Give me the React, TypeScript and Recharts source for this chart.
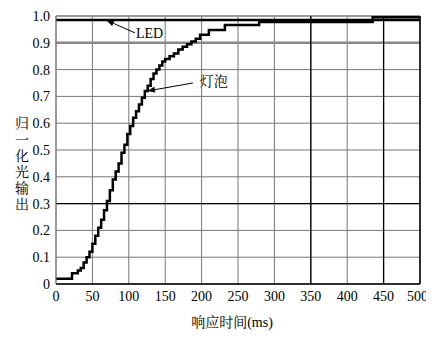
import React from 'react';
import { ComposedChart, Line, XAxis, YAxis, CartesianGrid, ReferenceLine } from 'recharts';

const bulbTimes = [0, 22, 30, 34, 38, 42, 46, 50, 54, 58, 62, 66, 70, 74, 78, 82, 86, 90, 94, 98, 102, 106, 110, 114, 118, 122, 126, 130, 134, 138, 142, 146, 150, 156, 162, 168, 174, 180, 186, 192, 198, 210, 232, 279, 435, 500];
const bulbOutput = [0.02, 0.04, 0.05, 0.06, 0.08, 0.1, 0.12, 0.15, 0.18, 0.21, 0.24, 0.275, 0.31, 0.35, 0.39, 0.42, 0.45, 0.49, 0.52, 0.56, 0.59, 0.62, 0.645, 0.67, 0.695, 0.72, 0.74, 0.765, 0.785, 0.8, 0.815, 0.83, 0.84, 0.85, 0.86, 0.875, 0.885, 0.895, 0.905, 0.915, 0.93, 0.948, 0.966, 0.978, 0.995, 0.995];
const ledTimes = [0, 500];
const ledOutput = [0.985, 0.985];
const xTicks = [0, 50, 100, 150, 200, 250, 300, 350, 400, 450, 500];
const yTicks = [0, 0.1, 0.2, 0.3, 0.4, 0.5, 0.6, 0.7, 0.8, 0.9, 1.0];
const yLabel = '归一化光输出';
const xLabelCjk = '响应时间';
const xLabelUnit = '(ms)';

const bulbData = bulbTimes.map((t, i) => ({ t, v: bulbOutput[i] }));
const ledData = ledTimes.map((t, i) => ({ t, v: ledOutput[i] }));

const LATIN = 'Liberation Serif';
const CJK = 'Noto Serif CJK SC';

const makeArrow = (text: string, dx: number, dy: number, font: string) => (props: any) => {
  const { x1, y1, x2, y2 } = props;
  const ang = Math.atan2(y2 - y1, x2 - x1);
  const L = 8, W = 3;
  const bx = x2 - L * Math.cos(ang), by = y2 - L * Math.sin(ang);
  const px = -Math.sin(ang) * W, py = Math.cos(ang) * W;
  return (
    <g>
      <line x1={x1} y1={y1} x2={bx} y2={by} stroke="#000" strokeWidth={1} />
      <polygon points={`${x2},${y2} ${bx + px},${by + py} ${bx - px},${by - py}`} fill="#000" />
      <text x={x1 + dx} y={y1 + dy + 5} fontFamily={font} fontSize={14} fill="#000">{text}</text>
    </g>
  );
};

const YLabel = () => {
  return (
    <text x={14} y={108} fontFamily={CJK} fontSize={14} fill="#000" letterSpacing={2.2} style={{ writingMode: 'vertical-rl' }}>{yLabel}</text>
  );
};

const XLabel = (props: any) => {
  const vb = props.viewBox || {};
  const cx = (vb.x ?? 48) + (vb.width ?? 364) / 2 - 6;
  const cy = (vb.y ?? 276) + (vb.height ?? 30) + 13;
  return (
    <text x={cx} y={cy} textAnchor="middle" fontSize={14} fill="#000">
      <tspan fontFamily={CJK}>{xLabelCjk}</tspan>
      <tspan fontFamily={LATIN}>{xLabelUnit}</tspan>
    </text>
  );
};

const fmtY = (v: number) => (v === 0 ? '0' : v.toFixed(1));

export default function App() {
  return (
    <ComposedChart width={420} height={330} margin={{ top: 8, right: 8, bottom: 24, left: 18 }}>
      <CartesianGrid stroke="#777" strokeWidth={1} />
      <XAxis
        type="number"
        dataKey="t"
        domain={[0, 500]}
        ticks={xTicks}
        allowDataOverflow
        height={30}
        tickLine={false}
        tickSize={0}
        tickMargin={7}
        axisLine={{ stroke: '#000', strokeWidth: 1.5 }}
        tick={{ fontFamily: LATIN, fontSize: 14, fill: '#000' }}
        label={<XLabel />}
      />
      <YAxis
        type="number"
        domain={[0, 1]}
        ticks={yTicks}
        width={30}
        tickLine={false}
        tickSize={0}
        tickMargin={6}
        axisLine={{ stroke: '#777' }}
        tickFormatter={fmtY}
        tick={{ fontFamily: LATIN, fontSize: 14, fill: '#000' }}
        label={<YLabel />}
      />
      <ReferenceLine y={0.9} stroke="#888" strokeWidth={2.5} />
      <ReferenceLine y={0.3} stroke="#000" strokeWidth={1.2} />
      <ReferenceLine y={1.0} stroke="#999" strokeWidth={2} />
      <ReferenceLine x={350} stroke="#000" strokeWidth={1.3} />
      <ReferenceLine x={450} stroke="#000" strokeWidth={1.3} />
      <ReferenceLine x={500} stroke="#000" strokeWidth={1.5} />
      <Line data={ledData} dataKey="v" type="linear" stroke="#000" strokeWidth={2.5} dot={false} isAnimationActive={false} />
      <Line data={bulbData} dataKey="v" type="stepAfter" stroke="#000" strokeWidth={2.5} dot={false} isAnimationActive={false} />
      <ReferenceLine segment={[{ x: 108.5, y: 0.937 }, { x: 68.7, y: 0.985 }]} ifOverflow="visible" shape={makeArrow('LED', 1, 0, LATIN)} />
      <ReferenceLine segment={[{ x: 188, y: 0.75 }, { x: 125, y: 0.72 }]} ifOverflow="visible" shape={makeArrow('灯泡', 7, -2, CJK)} />
    </ComposedChart>
  );
}
